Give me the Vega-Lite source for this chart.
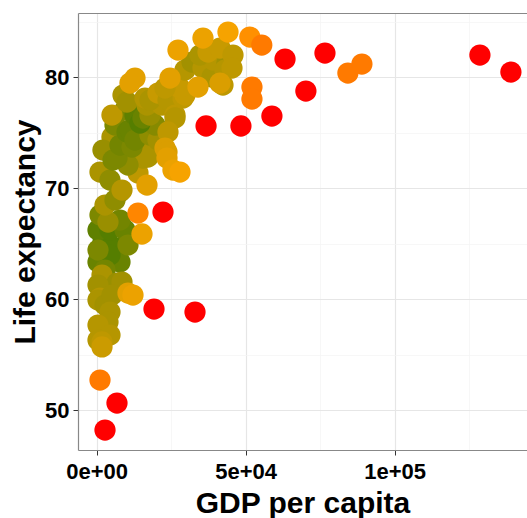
{
  "$schema": "https://vega.github.io/schema/vega-lite/v6.json",
  "width": 449,
  "height": 437,
  "autosize": "none",
  "padding": {"left": 78, "top": 13, "right": 0, "bottom": 68},
  "background": "white",
  "config": {
    "view": {"stroke": null},
    "font": "Liberation Sans"
  },
  "data": {
    "values": [
      {"gdp": 2110, "life": 65.14, "score": 0.1},
      {"gdp": 6810, "life": 64.59, "score": 0.1},
      {"gdp": 440, "life": 63.33, "score": 0.2},
      {"gdp": 7820, "life": 63.33, "score": 0.2},
      {"gdp": 4460, "life": 63.96, "score": 0.1},
      {"gdp": 440, "life": 66.22, "score": 0.15},
      {"gdp": 4460, "life": 66.22, "score": 0.1},
      {"gdp": 9500, "life": 66.22, "score": 0.2},
      {"gdp": 1110, "life": 67.57, "score": 0.3},
      {"gdp": 7820, "life": 67.12, "score": 0.25},
      {"gdp": 440, "life": 64.41, "score": 0.3},
      {"gdp": 10500, "life": 64.86, "score": 0.3},
      {"gdp": 2790, "life": 62.61, "score": 0.25},
      {"gdp": 3790, "life": 66.94, "score": 0.45},
      {"gdp": 1780, "life": 62.16, "score": 0.55},
      {"gdp": 6810, "life": 61.44, "score": 0.45},
      {"gdp": 8490, "life": 61.53, "score": 0.5},
      {"gdp": 440, "life": 61.26, "score": 0.5},
      {"gdp": 1110, "life": 60.09, "score": 0.6},
      {"gdp": 440, "life": 59.91, "score": 0.55},
      {"gdp": 2790, "life": 59.46, "score": 0.5},
      {"gdp": 5130, "life": 60.36, "score": 0.5},
      {"gdp": 4460, "life": 58.83, "score": 0.55},
      {"gdp": 3790, "life": 57.93, "score": 0.55},
      {"gdp": 440, "life": 57.66, "score": 0.6},
      {"gdp": 4460, "life": 56.76, "score": 0.6},
      {"gdp": 440, "life": 56.31, "score": 0.6},
      {"gdp": 1780, "life": 56.13, "score": 0.65},
      {"gdp": 1780, "life": 55.68, "score": 0.72},
      {"gdp": 10500, "life": 60.54, "score": 0.85},
      {"gdp": 12180, "life": 60.36, "score": 0.9},
      {"gdp": 1110, "life": 52.7, "score": 1.4},
      {"gdp": 6810, "life": 50.63, "score": 2.0},
      {"gdp": 2790, "life": 48.2, "score": 2.0},
      {"gdp": 19230, "life": 59.1, "score": 2.0},
      {"gdp": 32990, "life": 58.83, "score": 2.0},
      {"gdp": 5130, "life": 74.59, "score": 0.55},
      {"gdp": 1110, "life": 71.44, "score": 0.55},
      {"gdp": 2790, "life": 68.47, "score": 0.55},
      {"gdp": 7820, "life": 69.64, "score": 0.5},
      {"gdp": 4460, "life": 70.72, "score": 0.4},
      {"gdp": 6140, "life": 68.92, "score": 0.4},
      {"gdp": 2110, "life": 73.42, "score": 0.45},
      {"gdp": 8490, "life": 69.82, "score": 0.6},
      {"gdp": 13860, "life": 71.35, "score": 0.65},
      {"gdp": 15540, "life": 72.7, "score": 0.55},
      {"gdp": 15540, "life": 73.6, "score": 0.55},
      {"gdp": 16210, "life": 73.69, "score": 0.55},
      {"gdp": 17210, "life": 72.79, "score": 0.55},
      {"gdp": 10500, "life": 72.07, "score": 0.4},
      {"gdp": 5470, "life": 72.52, "score": 0.3},
      {"gdp": 6810, "life": 72.7, "score": 0.3},
      {"gdp": 7820, "life": 73.87, "score": 0.25},
      {"gdp": 11850, "life": 73.69, "score": 0.3},
      {"gdp": 6140, "life": 75.68, "score": 0.3},
      {"gdp": 10170, "life": 75.05, "score": 0.2},
      {"gdp": 11170, "life": 75.23, "score": 0.2},
      {"gdp": 12850, "life": 74.32, "score": 0.25},
      {"gdp": 17890, "life": 74.77, "score": 0.4},
      {"gdp": 20570, "life": 74.32, "score": 0.5},
      {"gdp": 19560, "life": 75.68, "score": 0.35},
      {"gdp": 9500, "life": 77.03, "score": 0.3},
      {"gdp": 12850, "life": 76.58, "score": 0.15},
      {"gdp": 14530, "life": 75.86, "score": 0.1},
      {"gdp": 15540, "life": 76.31, "score": 0.2},
      {"gdp": 17890, "life": 76.58, "score": 0.45},
      {"gdp": 5130, "life": 76.58, "score": 0.65},
      {"gdp": 8830, "life": 78.38, "score": 0.55},
      {"gdp": 10170, "life": 77.75, "score": 0.5},
      {"gdp": 16880, "life": 77.48, "score": 0.55},
      {"gdp": 21910, "life": 77.48, "score": 0.6},
      {"gdp": 16210, "life": 78.11, "score": 0.6},
      {"gdp": 17890, "life": 77.93, "score": 0.55},
      {"gdp": 20570, "life": 78.56, "score": 0.7},
      {"gdp": 23930, "life": 77.93, "score": 0.6},
      {"gdp": 26280, "life": 76.58, "score": 0.65},
      {"gdp": 26280, "life": 76.31, "score": 0.6},
      {"gdp": 23930, "life": 75.05, "score": 0.65},
      {"gdp": 22920, "life": 73.6, "score": 0.8},
      {"gdp": 23590, "life": 73.24, "score": 0.8},
      {"gdp": 23590, "life": 72.7, "score": 0.85},
      {"gdp": 16880, "life": 70.27, "score": 0.85},
      {"gdp": 25600, "life": 71.62, "score": 0.9},
      {"gdp": 27950, "life": 71.44, "score": 0.95},
      {"gdp": 28960, "life": 78.11, "score": 0.65},
      {"gdp": 29630, "life": 78.38, "score": 0.7},
      {"gdp": 27950, "life": 79.01, "score": 0.7},
      {"gdp": 22920, "life": 79.01, "score": 0.65},
      {"gdp": 29630, "life": 80.63, "score": 0.6},
      {"gdp": 31980, "life": 81.35, "score": 0.5},
      {"gdp": 35330, "life": 81.71, "score": 0.45},
      {"gdp": 35670, "life": 80.81, "score": 0.6},
      {"gdp": 38690, "life": 80.0, "score": 0.55},
      {"gdp": 39030, "life": 81.53, "score": 0.6},
      {"gdp": 43720, "life": 81.26, "score": 0.5},
      {"gdp": 43050, "life": 80.63, "score": 0.6},
      {"gdp": 34660, "life": 81.98, "score": 0.55},
      {"gdp": 37350, "life": 82.25, "score": 0.7},
      {"gdp": 41380, "life": 82.61, "score": 0.7},
      {"gdp": 45740, "life": 81.98, "score": 0.65},
      {"gdp": 45400, "life": 80.81, "score": 0.65},
      {"gdp": 42380, "life": 79.28, "score": 0.65},
      {"gdp": 41380, "life": 79.46, "score": 0.8},
      {"gdp": 33990, "life": 79.1, "score": 0.85},
      {"gdp": 24600, "life": 79.91, "score": 0.85},
      {"gdp": 12850, "life": 79.91, "score": 0.85},
      {"gdp": 11170, "life": 79.46, "score": 0.85},
      {"gdp": 27280, "life": 82.43, "score": 0.9},
      {"gdp": 35670, "life": 83.51, "score": 0.9},
      {"gdp": 44060, "life": 84.05, "score": 0.95},
      {"gdp": 13860, "life": 67.75, "score": 1.3},
      {"gdp": 15200, "life": 65.86, "score": 0.9},
      {"gdp": 22250, "life": 67.84, "score": 2.0},
      {"gdp": 36700, "life": 75.59, "score": 2.0},
      {"gdp": 48400, "life": 75.59, "score": 2.0},
      {"gdp": 58800, "life": 76.49, "score": 2.0},
      {"gdp": 52100, "life": 79.1, "score": 1.4},
      {"gdp": 52100, "life": 78.02, "score": 1.4},
      {"gdp": 51400, "life": 83.6, "score": 1.2},
      {"gdp": 55400, "life": 82.88, "score": 1.4},
      {"gdp": 63200, "life": 81.62, "score": 2.0},
      {"gdp": 70200, "life": 78.74, "score": 2.0},
      {"gdp": 76600, "life": 82.16, "score": 2.0},
      {"gdp": 84300, "life": 80.36, "score": 1.4},
      {"gdp": 89000, "life": 81.17, "score": 1.4},
      {"gdp": 128600, "life": 81.98, "score": 2.0},
      {"gdp": 139000, "life": 80.45, "score": 2.0}
    ]
  },
  "encoding": {
    "x": {
      "field": "gdp",
      "type": "quantitative",
      "scale": {"domain": [-6270, 144400], "nice": false, "zero": false}
    },
    "y": {
      "field": "life",
      "type": "quantitative",
      "scale": {"domain": [46.4, 85.77], "nice": false, "zero": false},
      "axis": {
        "title": "Life expectancy",
        "values": [50, 55, 60, 65, 70, 75, 80, 85],
        "labelExpr": "datum.value % 10 === 0 ? datum.label : ''",
        "labelFont": "Liberation Sans",
        "labelFontSize": 22,
        "labelFontWeight": "bold",
        "labelColor": "#000000",
        "labelPadding": 4,
        "tickSize": 5,
        "tickColor": "#333333",
        "tickOpacity": {"condition": {"test": "datum.value % 10 !== 0", "value": 0}, "value": 1},
        "grid": true,
        "gridColor": {"condition": {"test": "datum.value % 10 !== 0", "value": "#F3F3F3"}, "value": "#E6E6E6"},
        "gridWidth": {"condition": {"test": "datum.value % 10 !== 0", "value": 0.7}, "value": 1.2},
        "domainColor": "#888888",
        "domainWidth": 1.2,
        "titleFont": "Liberation Sans",
        "titleFontSize": 30,
        "titleFontWeight": "bold",
        "titleColor": "#000000",
        "titleAngle": 270,
        "titleBaseline": "alphabetic",
        "titleAlign": "center",
        "titleX": -44,
        "titleY": 218.5
      }
    }
  },
  "layer": [
    {
      "mark": {"type": "point", "shape": "circle", "filled": true, "opacity": 1, "size": 452},
      "encoding": {
        "x": {
          "field": "gdp",
          "type": "quantitative",
          "axis": {
            "title": "GDP per capita",
            "orient": "bottom",
            "values": [0, 25000, 50000, 75000, 100000, 125000],
            "labelExpr": "datum.value === 0 ? '0e+00' : datum.value === 50000 ? '5e+04' : datum.value === 100000 ? '1e+05' : ''",
            "labelFont": "Liberation Sans",
            "labelFontSize": 22,
            "labelFontWeight": "bold",
            "labelColor": "#000000",
            "labelPadding": 6,
            "tickSize": 5,
            "tickColor": "#333333",
            "tickOpacity": {"condition": {"test": "datum.value % 50000 !== 0", "value": 0}, "value": 1},
            "grid": true,
            "gridColor": {"condition": {"test": "datum.value % 50000 !== 0", "value": "#F3F3F3"}, "value": "#E6E6E6"},
            "gridWidth": {"condition": {"test": "datum.value % 50000 !== 0", "value": 0.7}, "value": 1.2},
            "domainColor": "#888888",
            "domainWidth": 1.2,
            "titleFont": "Liberation Sans",
            "titleFontSize": 30,
            "titleFontWeight": "bold",
            "titleColor": "#000000",
            "titleBaseline": "alphabetic",
            "titleAlign": "center",
            "titleX": 224.5,
            "titleY": 62
          }
        },
        "color": {
          "field": "score",
          "type": "quantitative",
          "scale": {"domain": [0, 1, 2], "range": ["#3E7800", "#FFA500", "#FF0000"], "interpolate": "lab"},
          "legend": null
        }
      }
    },
    {
      "mark": {"type": "point", "opacity": 0},
      "encoding": {
        "x": {
          "field": "gdp",
          "type": "quantitative",
          "axis": {
            "orient": "top",
            "title": null,
            "labels": false,
            "ticks": false,
            "grid": false,
            "domainColor": "#888888",
            "domainWidth": 1.2
          }
        }
      }
    }
  ],
  "resolve": {"axis": {"x": "independent"}}
}
